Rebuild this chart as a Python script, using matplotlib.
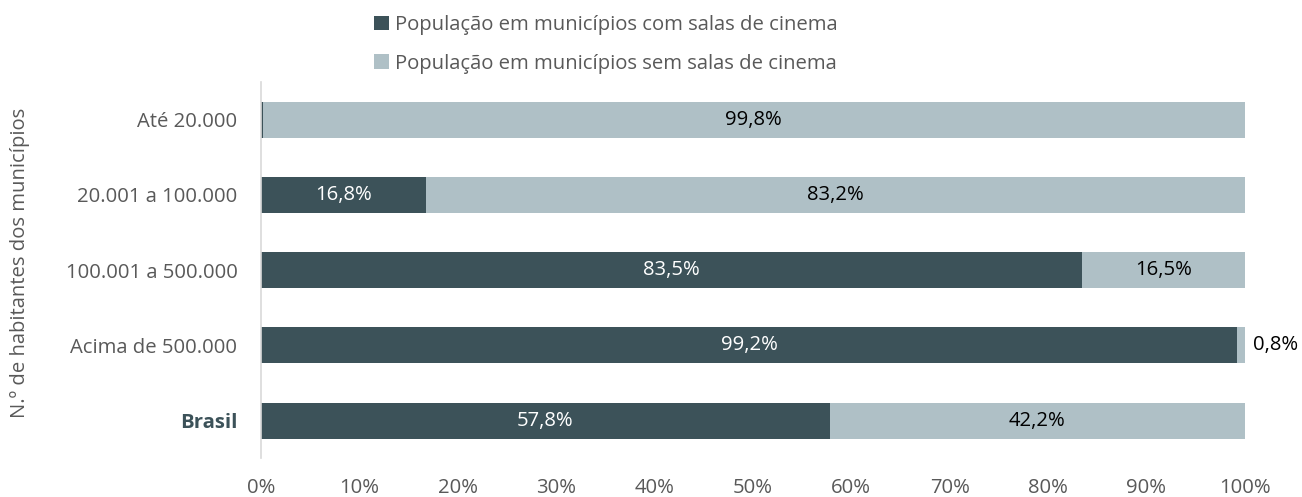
import matplotlib.pyplot as plt
from matplotlib.patches import Patch
from matplotlib.ticker import FuncFormatter

plt.rcParams['font.family'] = ['Open Sans', 'DejaVu Sans']

categories = ["Até 20.000", "20.001 a 100.000", "100.001 a 500.000",
              "Acima de 500.000", "Brasil"]
com_salas = [0.2, 16.8, 83.5, 99.2, 57.8]
sem_salas = [99.8, 83.2, 16.5, 0.8, 42.2]
series_names = ["População em municípios com salas de cinema",
                "População em municípios sem salas de cinema"]
x_ticks = [0, 10, 20, 30, 40, 50, 60, 70, 80, 90, 100]

dark = "#3C5259"
light = "#AFC0C6"
gray_text = "#595959"
fs = 14.6

fig = plt.figure(figsize=(13.02, 4.97), dpi=100)
ax = fig.add_axes([0.2005, 0.078, 0.7555, 0.757])

y = list(range(len(categories)))
ax.barh(y, com_salas, height=0.48, color=dark)
ax.barh(y, sem_salas, left=com_salas, height=0.48, color=light)


def fmt(v):
    return f"{v:.1f}".replace(".", ",") + "%"


for i, (a, b) in enumerate(zip(com_salas, sem_salas)):
    if a >= 5:
        ax.text(a / 2, i, fmt(a), ha="center", va="center",
                color="white", fontsize=fs)
    if b >= 5:
        ax.text(a + b / 2, i, fmt(b), ha="center", va="center",
                color="black", fontsize=fs)
    elif b > 0:
        ax.text(a + b + 0.8, i, fmt(b), ha="left", va="center",
                color="black", fontsize=fs)

ax.set_ylim(len(categories) - 0.5, -0.5)
ax.set_xlim(0, 100)
ax.set_yticks(y)
ax.set_yticklabels(categories, fontsize=fs, color=gray_text)
for lbl in ax.get_yticklabels():
    if lbl.get_text() == "Brasil":
        lbl.set_fontweight("bold")
        lbl.set_color(dark)

ax.set_xticks(x_ticks)
ax.xaxis.set_major_formatter(FuncFormatter(lambda v, p: f"{v:.0f}%"))
ax.tick_params(axis="x", length=0, labelsize=fs, labelcolor=gray_text, pad=14)
ax.tick_params(axis="y", length=0, pad=17)

for side in ["top", "right", "bottom"]:
    ax.spines[side].set_visible(False)
ax.spines["left"].set_color("#D9D9D9")
ax.spines["left"].set_linewidth(1.2)

ax.set_ylabel("N.º de habitantes dos municípios", fontsize=fs,
              color=gray_text)
ax.yaxis.set_label_coords(-0.235, 0.52)

handles = [Patch(facecolor=dark), Patch(facecolor=light)]
fig.legend(handles, series_names, loc="upper left",
           bbox_to_anchor=(0.2735, 1.006), frameon=False, fontsize=fs,
           labelcolor=gray_text, handlelength=0.7, handleheight=0.7,
           handletextpad=0.3, labelspacing=0.9)

fig.savefig("out.png", dpi=100)
